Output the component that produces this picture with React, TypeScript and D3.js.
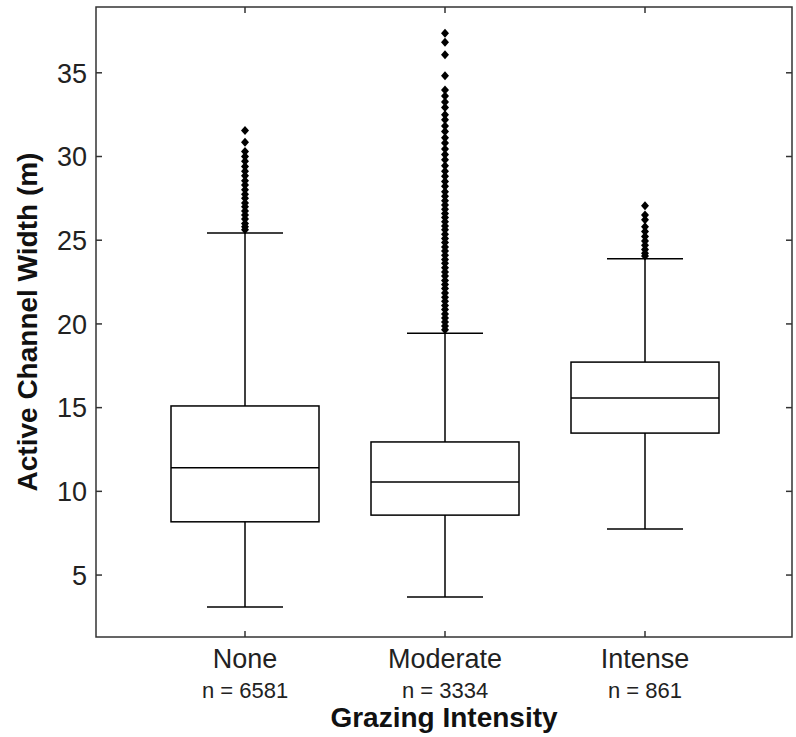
import React from "react";
import * as d3 from "d3";

const categories = ["None", "Moderate", "Intense"];
const counts = [6581, 3334, 861];
const q1 = [8.18, 8.58, 13.48];
const medians = [11.41, 10.56, 15.57];
const q3 = [15.1, 12.95, 17.72];
const whiskerLow = [3.09, 3.69, 7.75];
const whiskerHigh = [25.43, 19.44, 23.9];
const yTicks = [5, 10, 15, 20, 25, 30, 35];

const outliersNone = [
  31.55, 30.85, 30.3, 30.0, 29.72, 29.4, 29.12, 28.85, 28.55, 28.3, 28.02, 27.75,
  27.5, 27.22, 27.0, 26.75, 26.5, 26.26, 26.0, 25.8, 25.62,
];
const outliersModerate = [
  37.36, 36.83, 36.08, 34.83, 33.97, 33.62, 33.25, 32.92, 32.5, 32.2, 31.82, 31.5,
  31.12, 30.8, 30.45, 30.12, 29.8, 29.45, 29.12, 28.82, 28.5, 28.22, 27.9, 27.62,
  27.35, 27.1, 26.85, 26.6, 26.36, 26.1, 25.85, 25.62, 25.35, 25.1, 24.86, 24.6,
  24.35, 24.1, 23.85, 23.62, 23.35, 23.1, 22.86, 22.6, 22.35, 22.12, 21.85, 21.6,
  21.36, 21.1, 20.86, 20.6, 20.35, 20.12, 19.88, 19.65,
];
const outliersIntense = [
  27.06, 26.5, 26.22, 25.8, 25.52, 25.22, 24.95, 24.7, 24.45, 24.22, 24.05,
];
const outliers = [outliersNone, outliersModerate, outliersIntense];

const W = 796;
const H = 737;
const left = 96;
const right = 792;
const top = 7;
const bottom = 637;

export default function App() {
  const x = d3.scaleLinear().domain([0.255, 3.735]).range([left, right]);
  const y = d3.scaleLinear().domain([1.3, 38.93]).range([bottom, top]);
  const boxHalf = x(1.37) - x(1);
  const capHalf = x(1.19) - x(1);
  const font = "'Liberation Sans', Arial, Helvetica, sans-serif";
  const diamond = (cx: number, cy: number) =>
    `M${cx},${cy - 4.5}L${cx + 4},${cy}L${cx},${cy + 4.5}L${cx - 4},${cy}Z`;

  return (
    <svg
      width={W}
      height={H}
      style={{ position: "absolute", left: 0, top: 0, background: "#fff" }}
    >
      <rect x={0} y={0} width={W} height={H} fill="#fff" />
      {/* y ticks */}
      {yTicks.map((t) => (
        <g key={t}>
          <line x1={left} x2={left + 6} y1={y(t)} y2={y(t)} stroke="#333" strokeWidth={1.5} />
          <line x1={right - 6} x2={right} y1={y(t)} y2={y(t)} stroke="#333" strokeWidth={1.5} />
          <text
            x={left - 9}
            y={y(t)}
            dy="0.36em"
            textAnchor="end"
            fontFamily={font}
            fontSize={27}
            fill="#222"
          >
            {t}
          </text>
        </g>
      ))}
      {/* x ticks and labels */}
      {categories.map((c, i) => (
        <g key={c}>
          <line x1={x(i + 1)} x2={x(i + 1)} y1={bottom} y2={bottom - 6} stroke="#333" strokeWidth={1.5} />
          <line x1={x(i + 1)} x2={x(i + 1)} y1={top} y2={top + 6} stroke="#333" strokeWidth={1.5} />
          <text x={x(i + 1)} y={668} textAnchor="middle" fontFamily={font} fontSize={27} fill="#222">
            {c}
          </text>
          <text x={x(i + 1)} y={698} textAnchor="middle" fontFamily={font} fontSize={22} fill="#222">
            {`n = ${counts[i]}`}
          </text>
        </g>
      ))}
      {/* boxes */}
      {categories.map((c, i) => {
        const cx = x(i + 1);
        return (
          <g key={"b" + c} stroke="#000" strokeWidth={1.5} fill="none">
            <line x1={cx} x2={cx} y1={y(q3[i])} y2={y(whiskerHigh[i])} />
            <line x1={cx} x2={cx} y1={y(q1[i])} y2={y(whiskerLow[i])} />
            <line x1={cx - capHalf} x2={cx + capHalf} y1={y(whiskerHigh[i])} y2={y(whiskerHigh[i])} />
            <line x1={cx - capHalf} x2={cx + capHalf} y1={y(whiskerLow[i])} y2={y(whiskerLow[i])} />
            <rect x={cx - boxHalf} y={y(q3[i])} width={2 * boxHalf} height={y(q1[i]) - y(q3[i])} />
            <line x1={cx - boxHalf} x2={cx + boxHalf} y1={y(medians[i])} y2={y(medians[i])} />
            {outliers[i].map((v, k) => (
              <path key={k} d={diamond(cx, y(v))} fill="#000" stroke="none" />
            ))}
          </g>
        );
      })}
      {/* frame */}
      <rect x={left} y={top} width={right - left} height={bottom - top} fill="none" stroke="#333" strokeWidth={1.5} />
      {/* axis titles */}
      <text
        x={(left + right) / 2}
        y={727}
        textAnchor="middle"
        fontFamily={font}
        fontSize={28}
        fontWeight="bold"
        fill="#111"
      >
        Grazing Intensity
      </text>
      <text
        transform={`translate(37,${(top + bottom) / 2}) rotate(-90)`}
        textAnchor="middle"
        fontFamily={font}
        fontSize={28}
        fontWeight="bold"
        fill="#111"
      >
        Active Channel Width (m)
      </text>
    </svg>
  );
}
